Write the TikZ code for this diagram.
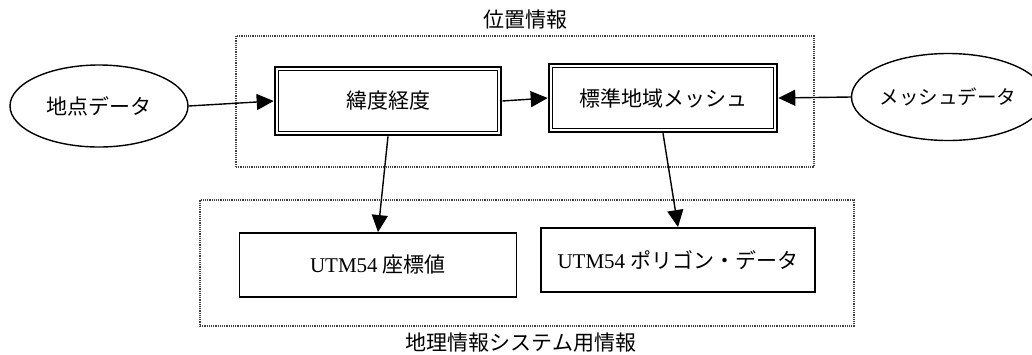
\documentclass[tikz,border=0pt]{standalone}
\usepackage{fontspec}
\setmainfont{Liberation Serif}
\newfontfamily\cjk{Noto Sans CJK JP}
\usetikzlibrary{arrows.meta,shapes.geometric}
\begin{document}
\begin{tikzpicture}[x=1pt,y=-1pt,
  every node/.style={font=\fontsize{21}{24}\selectfont},
  oval/.style={draw,ellipse,line width=1.4pt,inner sep=0pt},
  dblbox/.style={draw,line width=2.6pt,inner sep=0pt},
  plainbox/.style={draw,line width=1.9pt,inner sep=0pt},
  groupbox/.style={draw=black!75,densely dotted,line width=1.2pt,inner sep=0pt},
  conn/.style={line width=1.4pt,-{Triangle[length=17pt,width=16pt]}},
  title/.style={font=\fontsize{21}{24}\selectfont\cjk},
]
\useasboundingbox (0,0) rectangle (1032,354);
% groups
\node[groupbox,minimum width=578pt,minimum height=131pt] (g1) at (525,101.5) {};
\node[title] (t1) at (525,20) {位置情報};
\node[groupbox,minimum width=654pt,minimum height=126pt] (g2) at (527,263) {};
\node[title] (t2) at (521,343) {地理情報システム用情報};
% top row
\node[oval,minimum width=178pt,minimum height=82pt] (e1) at (99,106) {\cjk 地点データ};
\node[dblbox,minimum width=226pt,minimum height=68pt] (b1) at (388,101) {\cjk 緯度経度};
\node[dblbox,minimum width=228pt,minimum height=68pt] (b2) at (663,98) {\cjk 標準地域メッシュ};
\node[oval,minimum width=166pt,minimum height=87pt] (e2) at (948,97) {\cjk\fontsize{19.5}{24}\selectfont メッシュデータ};
\draw[line width=1.1pt] ([shift={(4.5pt,-4.5pt)}]b1.north west) rectangle ([shift={(-4.5pt,4.5pt)}]b1.south east);
\draw[line width=1.1pt] ([shift={(4.5pt,-4.5pt)}]b2.north west) rectangle ([shift={(-4.5pt,4.5pt)}]b2.south east);
% bottom row
\node[plainbox,minimum width=277pt,minimum height=64pt] (u1) at (378,265) {UTM54 {\cjk 座標値}};
\node[plainbox,minimum width=274pt,minimum height=64pt] (u2) at (678,260) {UTM54 {\cjk ポリゴン・データ}};
% connectors
\draw[conn] (e1.east) -- (b1.west);
\draw[conn] (b1.east) -- (b2.west);
\draw[conn] (e2.west) -- (b2.east);
\draw[conn] (b1.south) -- (u1.north);
\draw[conn] (b2.south) -- (u2.north);
\end{tikzpicture}
\end{document}
